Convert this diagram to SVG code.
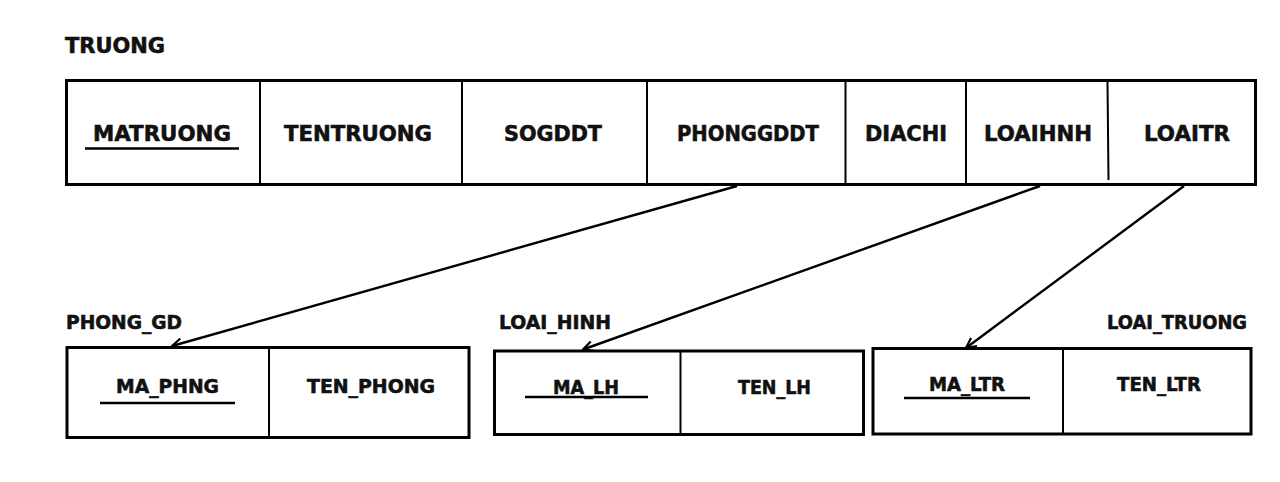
<svg xmlns="http://www.w3.org/2000/svg" width="1280" height="482" viewBox="0 0 1280 482">
<style>
  .box{fill:#fff;stroke:#000;stroke-width:3}
  .div{stroke:#000;stroke-width:2;fill:none}
  .t{font-family:"DejaVu Sans","Liberation Sans",sans-serif;font-weight:bold;fill:#111;stroke:#111;stroke-width:0.6}
  .m{font-size:21.5px}
  .s{font-size:19px}
  .ul{stroke:#000;stroke-width:2.5}
  .conn{stroke:#000;stroke-width:2.4;fill:none}
</style>
<defs>
  <marker id="arr" viewBox="0 0 12 12" refX="11" refY="6" markerWidth="12" markerHeight="12" markerUnits="userSpaceOnUse" orient="auto">
    <path d="M1,1 L11,6 L1,11" fill="none" stroke="#000" stroke-width="2.2"/>
  </marker>
</defs>
<rect width="1280" height="482" fill="#fff"/>

<g id="truong">
  <text class="t m" x="65" y="53" textLength="100" lengthAdjust="spacingAndGlyphs">TRUONG</text>
  <rect class="box" x="66.5" y="80.5" width="1189" height="104"/>
  <line class="div" x1="260" y1="81" x2="260" y2="184"/>
  <line class="div" x1="462" y1="81" x2="462" y2="184"/>
  <line class="div" x1="647" y1="81" x2="647" y2="184"/>
  <line class="div" x1="845.5" y1="81" x2="845.5" y2="184"/>
  <line class="div" x1="966" y1="81" x2="966" y2="184"/>
  <line class="div" x1="1107.5" y1="82" x2="1108.5" y2="180"/>
  <text class="t m" x="93" y="141" textLength="138" lengthAdjust="spacingAndGlyphs">MATRUONG</text>
  <line class="ul" x1="85" y1="148.5" x2="239" y2="148.5"/>
  <text class="t m" x="284" y="141" textLength="148" lengthAdjust="spacingAndGlyphs">TENTRUONG</text>
  <text class="t m" x="504" y="141" textLength="98" lengthAdjust="spacingAndGlyphs">SOGDDT</text>
  <text class="t m" x="677" y="141" textLength="142" lengthAdjust="spacingAndGlyphs">PHONGGDDT</text>
  <text class="t m" x="865" y="141" textLength="82" lengthAdjust="spacingAndGlyphs">DIACHI</text>
  <text class="t m" x="984" y="141" textLength="108" lengthAdjust="spacingAndGlyphs">LOAIHNH</text>
  <text class="t m" x="1144" y="141" textLength="86" lengthAdjust="spacingAndGlyphs">LOAITR</text>
</g>

<g id="phong_gd">
  <text class="t s" x="66" y="329" textLength="116" lengthAdjust="spacingAndGlyphs">PHONG_GD</text>
  <rect class="box" x="67" y="347.5" width="402" height="90"/>
  <line class="div" x1="269" y1="348" x2="269" y2="437"/>
  <text class="t s" x="116" y="393" textLength="103" lengthAdjust="spacingAndGlyphs">MA_PHNG</text>
  <line class="ul" x1="100" y1="403" x2="235" y2="403"/>
  <text class="t s" x="307" y="393" textLength="128" lengthAdjust="spacingAndGlyphs">TEN_PHONG</text>
</g>

<g id="loai_hinh">
  <text class="t s" x="499" y="329" textLength="112" lengthAdjust="spacingAndGlyphs">LOAI_HINH</text>
  <rect class="box" x="494.5" y="351" width="369" height="83.5"/>
  <line class="div" x1="680.5" y1="352" x2="680.5" y2="434"/>
  <text class="t s" x="553" y="394" textLength="66" lengthAdjust="spacingAndGlyphs">MA_LH</text>
  <line class="ul" x1="525" y1="397" x2="648" y2="397"/>
  <text class="t s" x="738" y="394" textLength="73" lengthAdjust="spacingAndGlyphs">TEN_LH</text>
</g>

<g id="loai_truong">
  <text class="t s" x="1107" y="329" textLength="140" lengthAdjust="spacingAndGlyphs">LOAI_TRUONG</text>
  <rect class="box" x="873" y="348.5" width="378" height="85.5"/>
  <line class="div" x1="1063" y1="349" x2="1063" y2="434"/>
  <text class="t s" x="929" y="391" textLength="76" lengthAdjust="spacingAndGlyphs">MA_LTR</text>
  <line class="ul" x1="904" y1="398" x2="1030" y2="398"/>
  <text class="t s" x="1117" y="391" textLength="84" lengthAdjust="spacingAndGlyphs">TEN_LTR</text>
</g>

<g id="connectors">
  <line class="conn" x1="737" y1="186" x2="172" y2="346" marker-end="url(#arr)"/>
  <line class="conn" x1="1040" y1="186" x2="583" y2="349.5" marker-end="url(#arr)"/>
  <line class="conn" x1="1184" y1="186" x2="966" y2="348" marker-end="url(#arr)"/>
</g>
</svg>
